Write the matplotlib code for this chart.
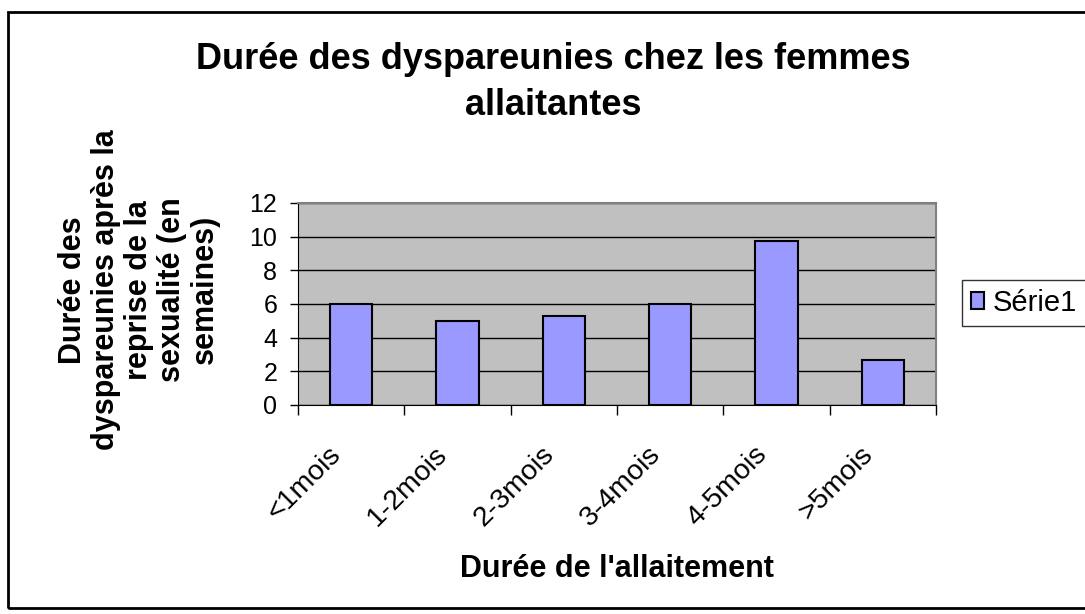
import matplotlib.pyplot as plt
import matplotlib.transforms as mtransforms
from matplotlib.patches import Rectangle

categories = ['<1mois', '1-2mois', '2-3mois', '3-4mois', '4-5mois', '>5mois']
values = [6.0, 5.0, 5.3, 6.0, 9.75, 2.65]
yticks = [0, 2, 4, 6, 8, 10, 12]

plt.rcParams['font.family'] = ['Liberation Sans', 'DejaVu Sans']

fig = plt.figure(figsize=(10.85, 6.14), dpi=100)
ax = fig.add_axes([0.2747, 0.3404, 0.588, 0.3290])
ax.set_facecolor('#C0C0C0')

x = list(range(len(categories)))
bars = ax.bar(x, values, width=0.4, color='#9999FF', edgecolor='black',
              linewidth=1.5, zorder=3, label='Série1')

ax.set_xlim(-0.5, len(categories) - 0.5)
ax.set_ylim(0, 12)
ax.set_yticks(yticks)
ax.yaxis.grid(True, color='black', linewidth=1, zorder=1)
ax.tick_params(axis='y', labelsize=18, length=6, width=1, pad=9)

ax.set_xticks(x)
ax.set_xticklabels(categories, rotation=45, ha='right', rotation_mode='anchor',
                   fontsize=20.5)
ax.tick_params(axis='x', which='major', length=0, pad=26)
shift = mtransforms.ScaledTranslation(-23 / 100, 0, fig.dpi_scale_trans)
for lab in ax.get_xticklabels():
    lab.set_transform(lab.get_transform() + shift)
ax.set_xticks([i - 0.5 for i in range(len(categories) + 1)], minor=True)
ax.tick_params(axis='x', which='minor', length=7, width=1)

for s in ['top', 'right']:
    ax.spines[s].set_color('#808080')
    ax.spines[s].set_linewidth(1.5)
for s in ['left', 'bottom']:
    ax.spines[s].set_color('black')

fig.text(0.51, 0.866, "Durée des dyspareunies chez les femmes\nallaitantes",
         ha='center', va='center', fontsize=26, fontweight='bold',
         linespacing=1.4)

fig.text(0.128, 0.528,
         "Durée des\ndyspareunies après la\nreprise de la\nsexualité (en\nsemaines)",
         rotation=90, ha='center', va='center', fontsize=22, fontweight='bold',
         multialignment='center', linespacing=1.12)

fig.text(0.569, 0.073, "Durée de l'allaitement", ha='center', va='center',
         fontsize=22, fontweight='bold')

leg = ax.legend(loc='center left', bbox_to_anchor=(0.8866, 0.5065),
                bbox_transform=fig.transFigure, fontsize=21,
                frameon=True, fancybox=False, edgecolor='black',
                handlelength=0.45, handleheight=0.55, handletextpad=0.3,
                borderpad=0.3, borderaxespad=0)
leg.get_frame().set_linewidth(1)

fig.patches.append(Rectangle((0.0075, 0.01), 1.1, 0.97, transform=fig.transFigure,
                             fill=False, edgecolor='black', linewidth=2))

fig.savefig('out.png', dpi=100)
